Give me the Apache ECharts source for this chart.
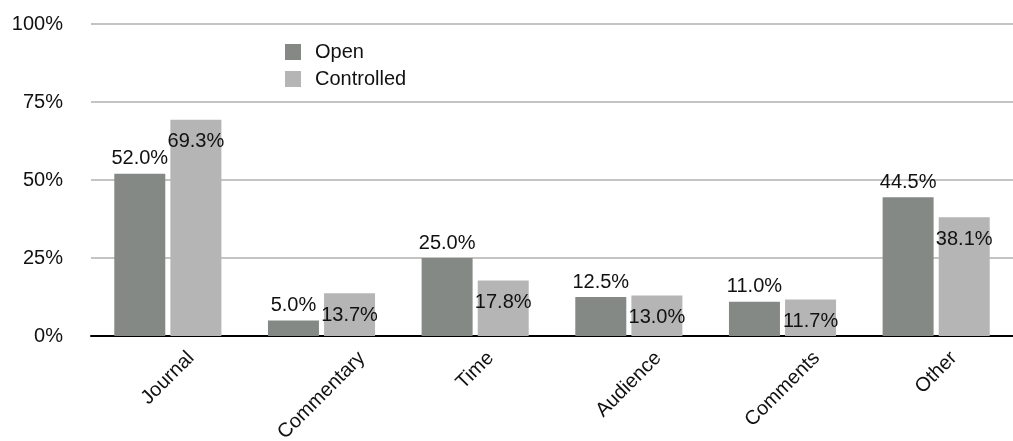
<!DOCTYPE html>
<html>
<head>
<meta charset="utf-8">
<style>
  html, body { margin: 0; padding: 0; background: #fff; }
  #chart { width: 1013px; height: 441px; }
</style>
<script src="https://cdn.jsdelivr.net/npm/echarts@6/dist/echarts.min.js"></script>
</head>
<body>
<div id="chart"></div>
<script>
// Categories and percentages for each group
const categories = ['Journal', 'Commentary', 'Time', 'Audience', 'Comments', 'Other'];
const openValues = [52.0, 5.0, 25.0, 12.5, 11.0, 44.5];
const controlledValues = [69.3, 13.7, 17.8, 13.0, 11.7, 38.1];
const seriesNames = ['Open', 'Controlled'];
const yTicks = [0, 25, 50, 75, 100];

const FONT = '"Liberation Sans", Arial, Helvetica, sans-serif';
const FONT_SIZE = 20;
const LINE_HEIGHT = 20;
const TEXT_COLOR = '#111';

// Rotated category labels are centred under their category: measure each
// label and pad it so the middle of the text drops straight below the tick.
const measureCtx = document.createElement('canvas').getContext('2d');
measureCtx.font = FONT_SIZE + 'px ' + FONT;
const LABEL_MARGIN = 8;
const categoryItems = categories.map(function (name) {
  const halfW = measureCtx.measureText(name).width / 2;
  const drop = 11 + Math.SQRT1_2 * halfW;      // vertical offset of text centre
  const along = Math.SQRT1_2 * drop;            // same offset in the rotated frame
  return {
    value: name,
    textStyle: {
      align: 'center',
      verticalAlign: 'top',
      lineHeight: LINE_HEIGHT,
      padding: [Math.max(0, along - LINE_HEIGHT / 2), 2 * along, 0, 0]
    }
  };
});

const pct = function (p) { return p.value.toFixed(1) + '%'; };

const chart = echarts.init(document.getElementById('chart'), null, { renderer: 'canvas' });
chart.setOption({
  animation: false,
  backgroundColor: '#fff',
  textStyle: { fontFamily: FONT, color: TEXT_COLOR },
  legend: {
    data: seriesNames,
    orient: 'vertical',
    left: 280,
    top: 37,
    itemWidth: 16,
    itemHeight: 16,
    itemGap: 7,
    icon: 'rect',
    textStyle: { fontSize: FONT_SIZE, color: TEXT_COLOR, fontFamily: FONT, padding: [0, 0, 0, 9] }
  },
  grid: { left: 91, right: 0, top: 24, bottom: 105, containLabel: false, outerBoundsMode: 'none' },
  xAxis: {
    type: 'category',
    data: categoryItems,
    axisLine: { show: true, lineStyle: { color: '#000', width: 2 } },
    axisTick: { show: false },
    axisLabel: {
      rotate: 45,
      margin: LABEL_MARGIN,
      interval: 0,
      hideOverlap: false,
      fontSize: FONT_SIZE,
      lineHeight: LINE_HEIGHT,
      color: TEXT_COLOR,
      fontFamily: FONT
    }
  },
  yAxis: {
    type: 'value',
    min: yTicks[0],
    max: yTicks[yTicks.length - 1],
    interval: yTicks[1] - yTicks[0],
    axisLine: { show: false },
    axisTick: { show: false },
    splitLine: { lineStyle: { color: '#c4c4c4', width: 2 } },
    axisLabel: {
      margin: 28,
      fontSize: FONT_SIZE,
      color: TEXT_COLOR,
      fontFamily: FONT,
      formatter: function (v) { return v + '%'; }
    }
  },
  series: [
    {
      name: seriesNames[0],
      type: 'bar',
      data: openValues,
      barWidth: 51,
      barGap: '10%',
      itemStyle: { color: '#848986' },
      label: {
        show: true,
        position: 'top',
        distance: 5,
        fontSize: FONT_SIZE,
        color: TEXT_COLOR,
        fontFamily: FONT,
        formatter: pct
      }
    },
    {
      name: seriesNames[1],
      type: 'bar',
      data: controlledValues,
      barWidth: 51,
      barGap: '10%',
      itemStyle: { color: '#b5b5b5' },
      label: {
        show: true,
        position: 'insideTop',
        distance: 12,
        fontSize: FONT_SIZE,
        color: TEXT_COLOR,
        fontFamily: FONT,
        formatter: pct
      }
    }
  ]
});
</script>
</body>
</html>
